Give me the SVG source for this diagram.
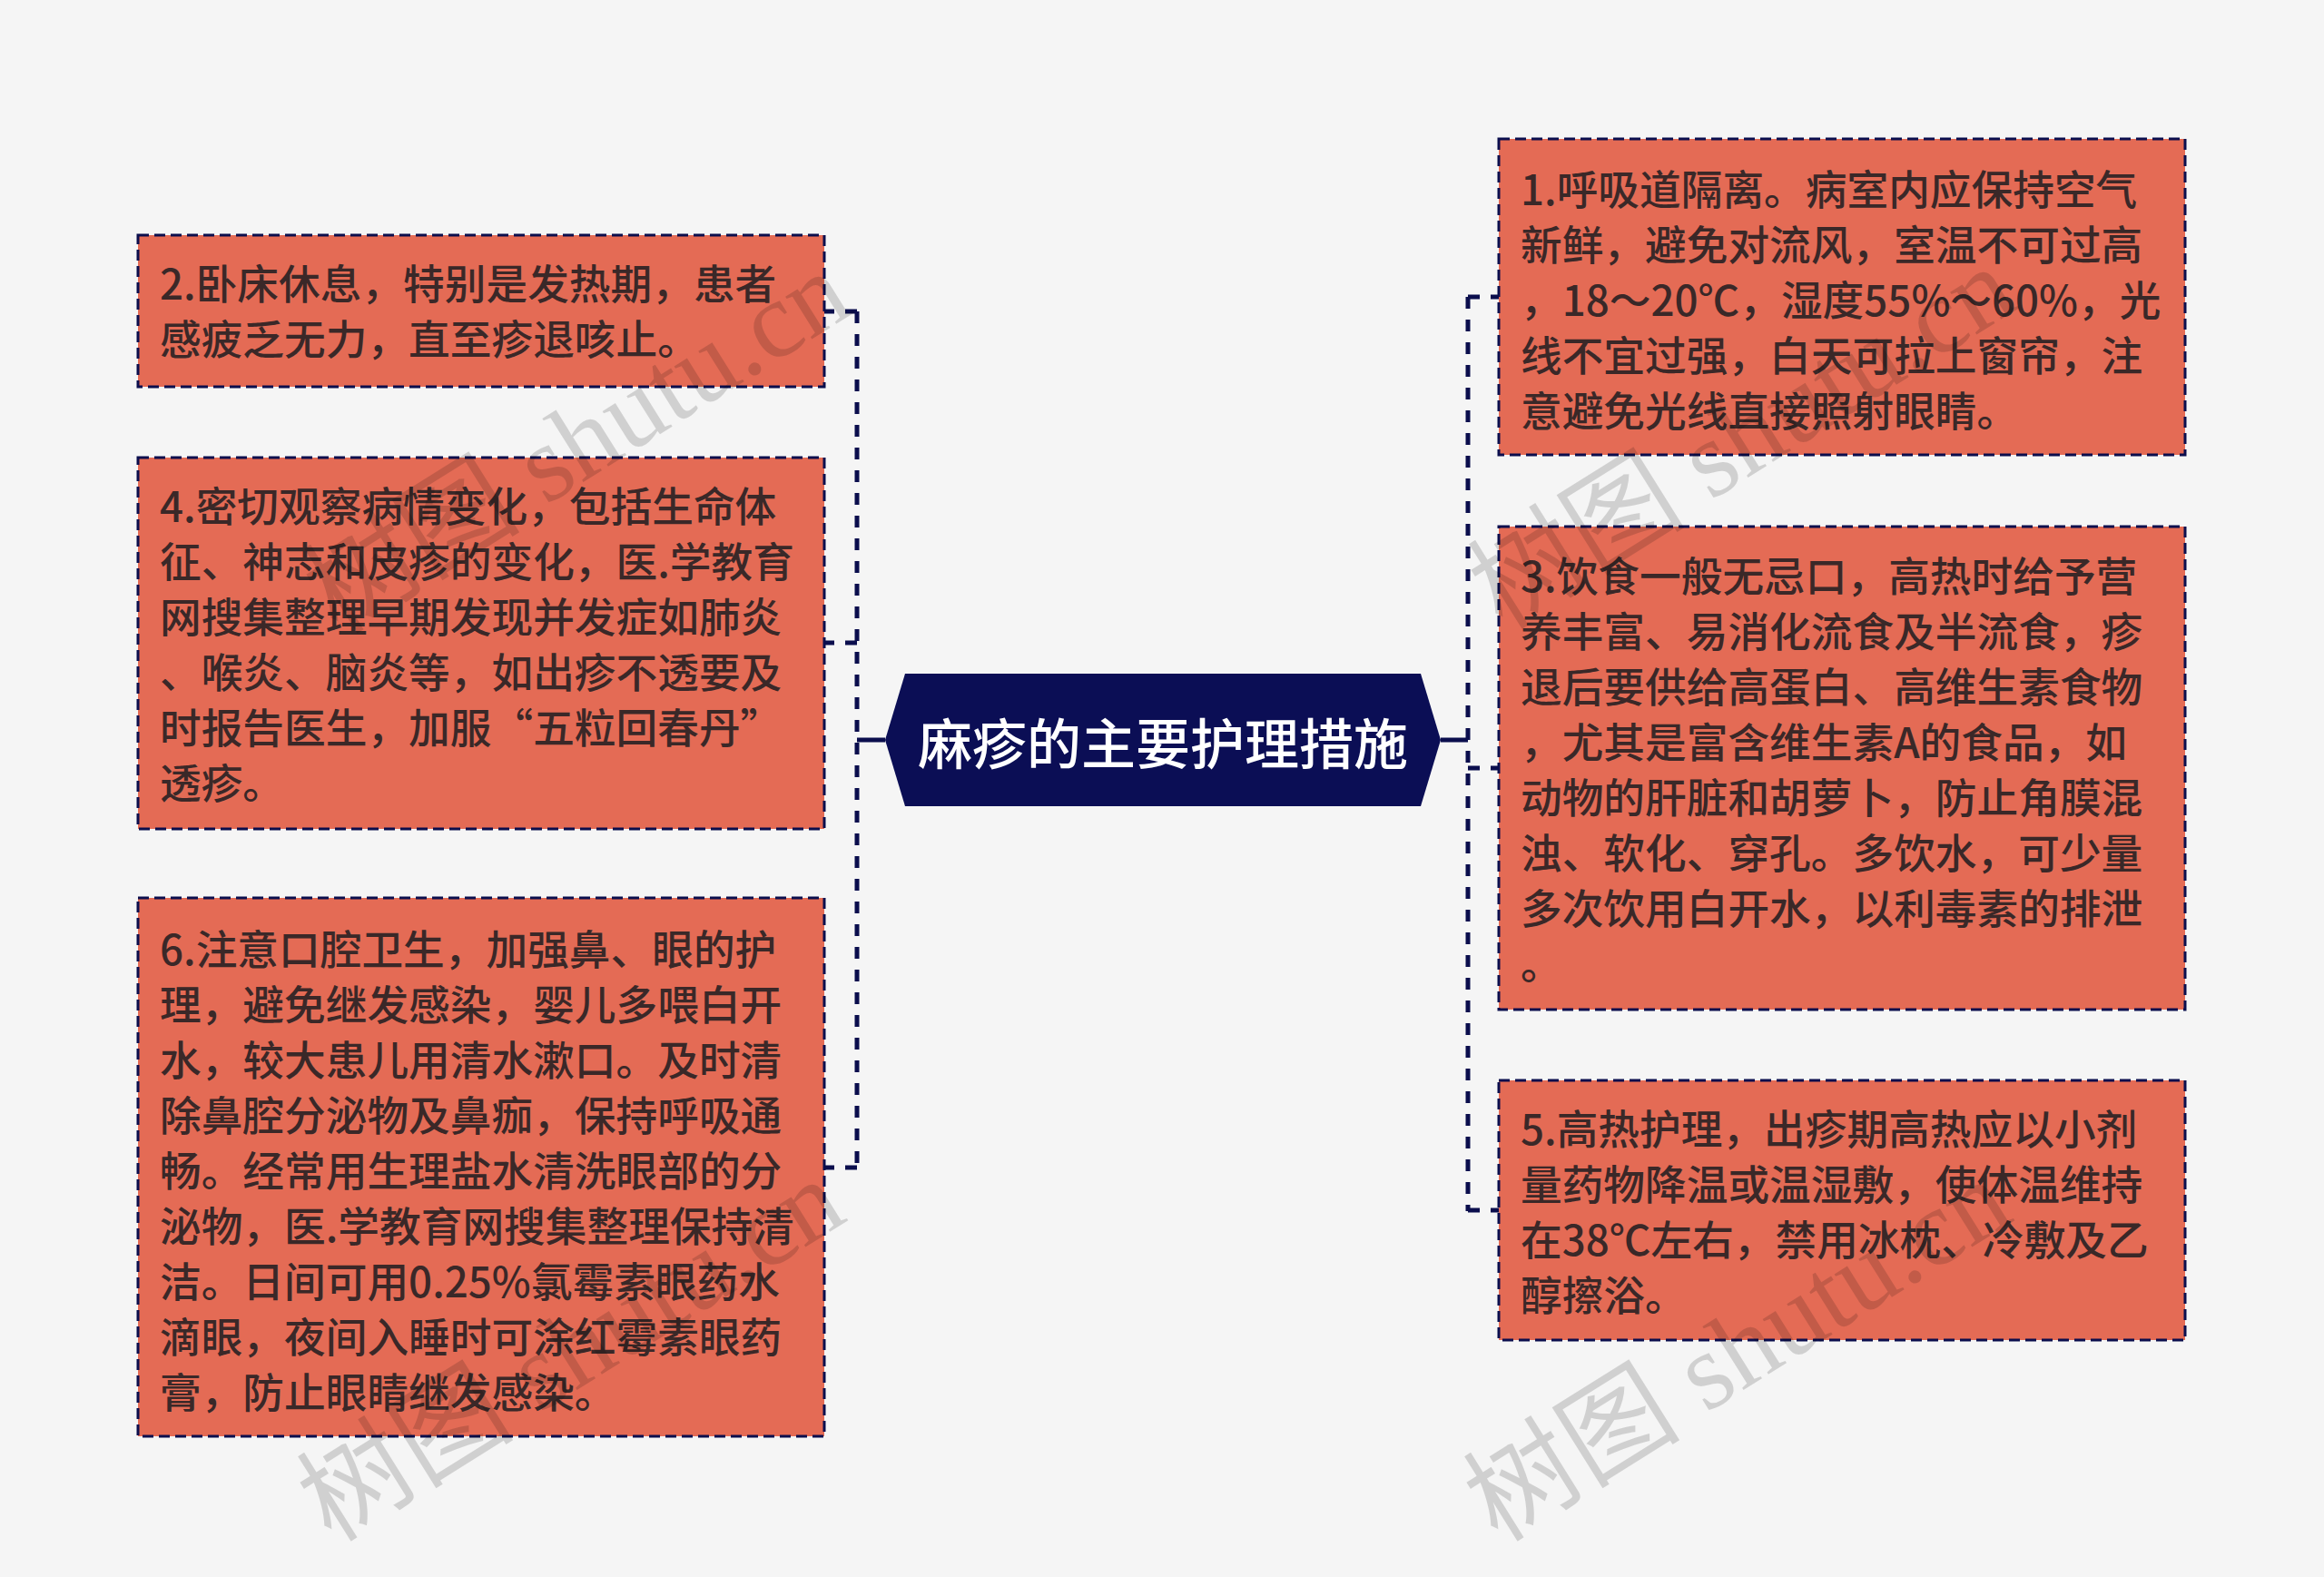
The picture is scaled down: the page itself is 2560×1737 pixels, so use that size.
<svg xmlns="http://www.w3.org/2000/svg" width="2560" height="1737" viewBox="0 0 2560 1737">
<style>
.bg{fill:#f5f5f5}
.box{fill:#e46b55;stroke:#0b0e4d;stroke-width:3;stroke-dasharray:12 6}
.t{font-family:"Noto Sans CJK SC","Noto Sans",sans-serif;font-size:45.7px;font-weight:500;fill:#3a2828;dominant-baseline:central}
.ct{font-family:"Noto Sans CJK SC","Noto Sans",sans-serif;font-size:60px;font-weight:500;fill:#ffffff;dominant-baseline:central;text-anchor:middle}
.stem{fill:none;stroke:#0b0e4d;stroke-width:5}
.dash{fill:none;stroke:#0b0e4d;stroke-width:5;stroke-dasharray:13 12}
.wm{font-family:"Liberation Serif","Noto Sans CJK SC",serif;font-size:120px;fill:#000;fill-opacity:0.15}
</style>
<rect class="bg" x="0" y="0" width="2560" height="1737"/>
<g id="connectors">
<path class="stem" d="M975 815H944"/>
<path class="dash" d="M944 343V1286"/>
<path class="dash" d="M944 343H908M944 708H908M944 1286H908"/>
<path class="stem" d="M1587 815H1617"/>
<path class="dash" d="M1617 327V1334"/>
<path class="dash" d="M1617 327H1651M1617 846H1651M1617 1333H1651"/>
</g>
<g id="center">
<polygon points="997,742 1565,742 1587,815 1565,888 997,888 975,815" fill="#0b0e55"/>
<text class="ct" x="1281" y="815">麻疹的主要护理措施</text>
</g>
<g id="node2">
<rect class="box" x="152" y="259" width="756" height="167"/>
<text class="t" x="176" y="310">2.卧床休息，特别是发热期，患者</text>
<text class="t" x="176" y="371">感疲乏无力，直至疹退咳止。</text>
</g>
<g id="node4">
<rect class="box" x="152" y="504" width="756" height="409"/>
<text class="t" x="176" y="555">4.密切观察病情变化，包括生命体</text>
<text class="t" x="176" y="616">征、神志和皮疹的变化，医.学教育</text>
<text class="t" x="176" y="677">网搜集整理早期发现并发症如肺炎</text>
<text class="t" x="176" y="738">、喉炎、脑炎等，如出疹不透要及</text>
<text class="t" x="176" y="799">时报告医生，加服“五粒回春丹”</text>
<text class="t" x="176" y="860">透疹。</text>
</g>
<g id="node6">
<rect class="box" x="152" y="989" width="756" height="593"/>
<text class="t" x="176" y="1043">6.注意口腔卫生，加强鼻、眼的护</text>
<text class="t" x="176" y="1104">理，避免继发感染，婴儿多喂白开</text>
<text class="t" x="176" y="1165">水，较大患儿用清水漱口。及时清</text>
<text class="t" x="176" y="1226">除鼻腔分泌物及鼻痂，保持呼吸通</text>
<text class="t" x="176" y="1287">畅。经常用生理盐水清洗眼部的分</text>
<text class="t" x="176" y="1348">泌物，医.学教育网搜集整理保持清</text>
<text class="t" x="176" y="1409">洁。日间可用0.25%氯霉素眼药水</text>
<text class="t" x="176" y="1470">滴眼，夜间入睡时可涂红霉素眼药</text>
<text class="t" x="176" y="1531">膏，防止眼睛继发感染。</text>
</g>
<g id="node1">
<rect class="box" x="1651" y="153" width="756" height="348"/>
<text class="t" x="1675" y="206">1.呼吸道隔离。病室内应保持空气</text>
<text class="t" x="1675" y="267">新鲜，避免对流风，室温不可过高</text>
<text class="t" x="1675" y="328">，18～20℃，湿度55%～60%，光</text>
<text class="t" x="1675" y="389">线不宜过强，白天可拉上窗帘，注</text>
<text class="t" x="1675" y="450">意避免光线直接照射眼睛。</text>
</g>
<g id="node3">
<rect class="box" x="1651" y="580" width="756" height="532"/>
<text class="t" x="1675" y="632">3.饮食一般无忌口，高热时给予营</text>
<text class="t" x="1675" y="693">养丰富、易消化流食及半流食，疹</text>
<text class="t" x="1675" y="754">退后要供给高蛋白、高维生素食物</text>
<text class="t" x="1675" y="815">，尤其是富含维生素A的食品，如</text>
<text class="t" x="1675" y="876">动物的肝脏和胡萝卜，防止角膜混</text>
<text class="t" x="1675" y="937">浊、软化、穿孔。多饮水，可少量</text>
<text class="t" x="1675" y="998">多次饮用白开水，以利毒素的排泄</text>
<text class="t" x="1675" y="1059">。</text>
</g>
<g id="node5">
<rect class="box" x="1651" y="1190" width="756" height="286"/>
<text class="t" x="1675" y="1241">5.高热护理，出疹期高热应以小剂</text>
<text class="t" x="1675" y="1302">量药物降温或温湿敷，使体温维持</text>
<text class="t" x="1675" y="1363">在38℃左右，禁用冰枕、冷敷及乙</text>
<text class="t" x="1675" y="1424">醇擦浴。</text>
</g>
<g id="watermarks">
<text class="wm" transform="translate(372 700) rotate(-32)">树图 shutu.cn</text>
<text class="wm" transform="translate(1655 695) rotate(-32)">树图 shutu.cn</text>
<text class="wm" transform="translate(365 1700) rotate(-32)">树图 shutu.cn</text>
<text class="wm" transform="translate(1650 1700) rotate(-32)">树图 shutu.cn</text>
</g>
</svg>
